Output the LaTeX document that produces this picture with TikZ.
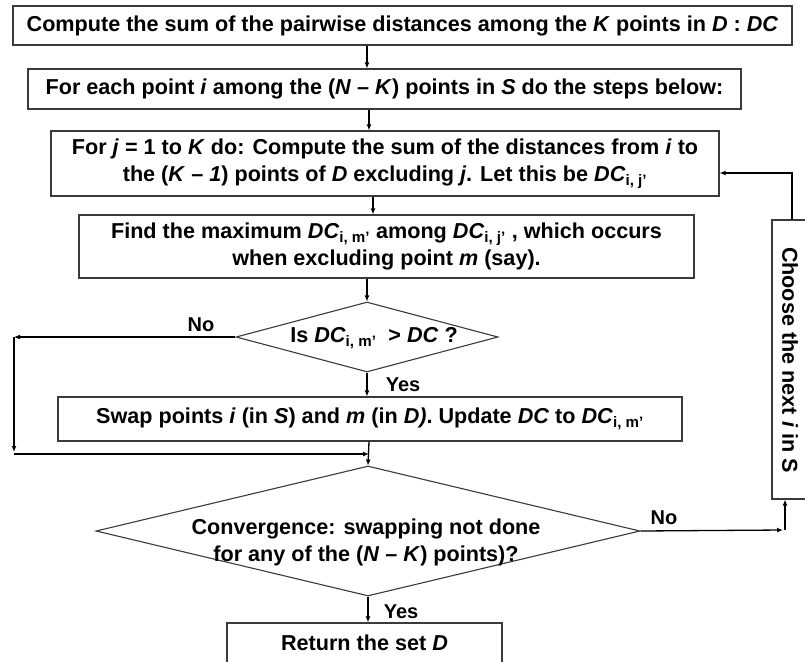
\documentclass[tikz,border=0pt]{standalone}
\usepackage{fontspec}
\setmainfont{Liberation Sans}
\usetikzlibrary{shapes.geometric,arrows.meta}
\definecolor{boxgray}{HTML}{3A3A3A}
\begin{document}
\begin{tikzpicture}[x=1pt,y=-1pt,
  box/.style={draw=boxgray, line width=1.1pt, rectangle, inner sep=0pt},
  dia/.style={draw=boxgray, line width=1.1pt, diamond, inner sep=0pt},
  txt/.style={font=\fontsize{21.6}{27}\selectfont\bfseries, align=center},
  lbl/.style={font=\fontsize{20}{24}\selectfont\bfseries, inner sep=0pt},
  arr/.style={line width=1.3pt, -{Latex[length=6pt,width=5pt]}},
  ln/.style={line width=1.3pt}]
\useasboundingbox (0,0) rectangle (805,661);
\clip (0,0) rectangle (805,661);

% boxes
\node[box, txt, minimum width=779pt, minimum height=39pt] (b1) at (402.5,25.5)
  {Compute the sum of the pairwise distances among the \textit{K} points in \textit{D} : \textit{DC}};
\node[box, txt, minimum width=713pt, minimum height=40pt] (b2) at (384.5,89)
  {For each point \textit{i} among the (\textit{N} \textendash{} \textit{K}) points in \textit{S} do the steps below:};
\node[box, txt, minimum width=668pt, minimum height=65pt] (b3) at (385,163.5)
  {For \textit{j} = 1 to \textit{K} do: Compute the sum of the distances from \textit{i} to\\
   the (\textit{K} \textendash{} \textit{1}) points of \textit{D} excluding \textit{j}. Let this be \textit{DC}\textsubscript{i, j’}};
\node[box, txt, minimum width=615pt, minimum height=63pt] (b4) at (386.5,246.5)
  {Find the maximum \textit{DC}\textsubscript{i, m’} among \textit{DC}\textsubscript{i, j’} , which occurs\\
   when excluding point \textit{m} (say).};
\node[dia, minimum width=262pt, minimum height=70pt] (d1) at (367,337) {};
\node[txt, inner sep=0pt] (d1t) at (374,338) {Is \textit{DC}\textsubscript{i, m’}\ \ {>} \textit{DC} ?};
\node[box, txt, minimum width=624pt, minimum height=44pt] (sw) at (370,419)
  {Swap points \textit{i} (in \textit{S}) and \textit{m} (in \textit{D)}. Update \textit{DC} to \textit{DC}\textsubscript{i, m’}};
\node[dia, minimum width=544pt, minimum height=130pt] (d2) at (368,531) {};
\node[txt, inner sep=0pt] (d2t) at (366,542)
  {Convergence: swapping not done\\for any of the (\textit{N} \textendash{} \textit{K}) points)?};
\node[box, txt, minimum width=275pt, minimum height=40pt] (rt) at (364.5,643)
  {Return the set \textit{D}};
\node[box, minimum width=38pt, minimum height=279pt] (ch) at (791,359.5) {};
\node[txt, inner sep=0pt, rotate=-90] (cht) at (790,360) {Choose the next \textit{i} in S};

% helper coordinates
\coordinate (x1) at (367,0);
\coordinate (x2) at (369,0);
\coordinate (x3) at (373,0);
\coordinate (nl) at (14,337);
\coordinate (nl2) at (14,452);
\coordinate (nl3) at (14,454);
\coordinate (mg) at (369,454);
\coordinate (nr) at (783,530);
\coordinate (nr2) at (785,530);
\coordinate (lp) at (792,173);

% connectors
\draw[arr] (b1.south -| x1) -- (b2.north -| x1);
\draw[arr] (b2.south -| x2) -- (b3.north -| x2);
\draw[arr] (b3.south -| x3) -- (b4.north -| x3);
\draw[arr] (b4.south -| d1.north) -- (d1.north);
\draw[arr] (d1.south) -- (d1.south |- sw.north);
\draw[arr] (d1.west) -- (nl);
\draw[arr] (nl) -- (nl2);
\draw[arr] (nl3) -- (mg);
\draw[arr] (sw.south -| mg) -- (d2.north);
\draw[arr] (d2.south) -- (d2.south |- rt.north);
\draw[arr] (d2.east) -- (nr);
\draw[arr] (nr2) -- (ch.south -| nr2);
\draw[arr] (ch.north -| lp) -- (lp) -- (b3.east |- lp);

% labels
\node[lbl] (no1) at (201,325) {No};
\node[lbl] (ye1) at (403,385) {Yes};
\node[lbl] (no2) at (664,518) {No};
\node[lbl] (ye2) at (401,612) {Yes};
\end{tikzpicture}
\end{document}
